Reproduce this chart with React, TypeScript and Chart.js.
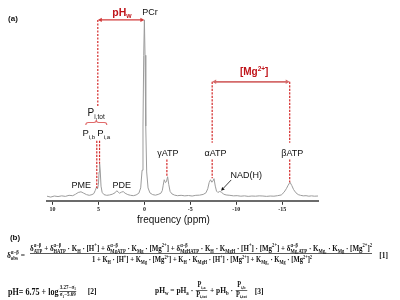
import { useEffect, useRef } from 'react';
import { Chart, registerables } from 'chart.js';

Chart.register(...registerables);

// ---------- data ----------
const ppmValues = [
  10.6, 10.2, 9.8, 9.4, 9.0, 8.6, 8.2, 7.8, 7.5, 7.2,
  6.9, 6.6, 6.3, 6.0, 5.7, 5.5, 5.35, 5.2, 5.1, 5.0,
  4.93, 4.87, 4.8, 4.72, 4.6, 4.4, 4.1, 3.8, 3.5, 3.2,
  3.0, 2.85, 2.7, 2.5, 2.3, 2.1, 1.8, 1.5, 1.2, 0.9,
  0.6, 0.4, 0.25, 0.15, 0.07, 0.0, -0.07, -0.15, -0.25, -0.4,
  -0.6, -0.9, -1.2, -1.5, -1.8, -1.95, -2.05, -2.16, -2.3, -2.4,
  -2.53, -2.65, -2.8, -3.0, -3.3, -3.6, -4.0, -4.4, -4.8, -5.2,
  -5.6, -6.0, -6.4, -6.7, -6.9, -7.05, -7.2, -7.35, -7.45, -7.58,
  -7.72, -7.85, -8.0, -8.2, -8.4, -8.6, -8.9, -9.3, -9.7, -10.1,
  -10.5, -10.9, -11.3, -11.7, -12.1, -12.5, -12.9, -13.3, -13.7, -14.1,
  -14.5, -14.9, -15.2, -15.45, -15.65, -15.85, -16.05, -16.25, -16.5, -16.75,
  -17.0, -17.3, -17.6, -17.9, -18.2, -18.5, -18.9,
];
const intensity = [
  0.3, -0.2, 0.4, 0.1, 0.5, 0.2, 0.8, 0.6, 1.4, 2.4,
  2.8, 2.0, 1.2, 0.8, 1.2, 1.8, 3.5, 5.5, 4.5, 7,
  14, 18.6, 14, 6, 2.5, 1.2, 0.8, 1.0, 1.4, 2.2,
  3.4, 2.6, 2.0, 2.6, 2.9, 2.0, 1.2, 0.8, 0.6, 1.0,
  2.0, 5, 15, 40, 80, 100, 80, 40, 14, 5,
  2.2, 1.2, 0.9, 1.3, 2.0, 3.5, 6.5, 9.6, 8.0, 8.5,
  11.3, 7, 3, 1.6, 0.9, 0.6, 0.8, 0.5, 0.7, 0.4,
  0.8, 0.9, 1.3, 2.2, 4.5, 8, 9.6, 8.2, 8.8, 10.2,
  6, 3.2, 2.4, 3.0, 2.6, 1.5, 1.0, 0.8, 0.5, 0.6,
  0.3, 0.5, 0.2, 0.4, 0.3, 0.5, 0.4, 0.2, 0.4, 0.3,
  0.6, 1.0, 2.5, 4.5, 6.5, 8.2, 6.3, 4.0, 2.2, 1.2,
  0.8, 0.5, 0.6, 0.3, 0.5, 0.3, 0.4,
];
const tickValues = [10, 5, 0, -5, -10, -15];
const axisMin = -18.9;
const axisMax = 10.6;
const axisTitle = 'frequency (ppm)';

// peak positions (ppm) used by the annotations
const pcrPpm = 0;
const piTotPpm = 5.07;
const piBPpm = 5.18;
const piAPpm = 4.88;
const gammaPpm = -2.45;
const alphaPpm = -7.38;
const betaPpm = -15.82;
const nadPpm = -8.35;
// peak heights at the dashed-line ends
const piBTop = 5;
const piATop = 18.6;
const gammaTop = 11.3;
const alphaTop = 10.4;
const betaTop = 8.2;
const nadTop = 3.4;

// ---------- text helpers ----------
const SANS = '"Liberation Sans", Arial, sans-serif';
const SERIF = '"Liberation Serif", "Times New Roman", serif';

type Seg = { t: string; sup?: string; sub?: string };

function parseRich(s: string): Seg[] {
  const out: Seg[] = [];
  let buf = '';
  let i = 0;
  while (i < s.length) {
    const c = s[i];
    if ((c === '^' || c === '_') && s[i + 1] === '{') {
      const j = s.indexOf('}', i);
      const inner = s.slice(i + 2, j);
      if (buf) { out.push({ t: buf }); buf = ''; }
      const last: any = out[out.length - 1];
      const key = c === '^' ? 'sup' : 'sub';
      if (last && last.t === '' && last[key] === undefined && s[i - 1] === '}') last[key] = inner;
      else out.push({ t: '', [key]: inner } as Seg);
      i = j + 1;
    } else { buf += c; i++; }
  }
  if (buf) out.push({ t: buf });
  return out;
}

function segsWidth(ctx: CanvasRenderingContext2D, segs: Seg[], size: number, fam: string, weight: string) {
  let w = 0;
  for (const g of segs) {
    if (g.t) { ctx.font = `${weight} ${size}px ${fam}`; w += ctx.measureText(g.t).width; }
    else {
      ctx.font = `${weight} ${size * 0.65}px ${fam}`;
      w += Math.max(g.sup ? ctx.measureText(g.sup).width : 0, g.sub ? ctx.measureText(g.sub).width : 0);
    }
  }
  return w;
}

function drawSegs(ctx: CanvasRenderingContext2D, segs: Seg[], x: number, y: number, size: number, fam: string, weight: string) {
  ctx.textAlign = 'left';
  ctx.textBaseline = 'alphabetic';
  let cx = x;
  for (const g of segs) {
    if (g.t) {
      ctx.font = `${weight} ${size}px ${fam}`;
      ctx.fillText(g.t, cx, y);
      cx += ctx.measureText(g.t).width;
    } else {
      ctx.font = `${weight} ${size * 0.65}px ${fam}`;
      let w = 0;
      if (g.sup) { ctx.fillText(g.sup, cx, y - size * 0.4); w = Math.max(w, ctx.measureText(g.sup).width); }
      if (g.sub) { ctx.fillText(g.sub, cx, y + size * 0.22); w = Math.max(w, ctx.measureText(g.sub).width); }
      cx += w;
    }
  }
  return cx - x;
}

function label(ctx: CanvasRenderingContext2D, text: string, cx: number, cy: number, size: number, color: string, weight = 'normal', fam = SANS) {
  const segs = parseRich(text);
  const w = segsWidth(ctx, segs, size, fam, weight);
  ctx.fillStyle = color;
  drawSegs(ctx, segs, cx - w / 2, cy + size * 0.36, size, fam, weight);
}

type Item = { segs: Seg[] } | { num: Seg[]; den: Seg[]; k: number };

function layoutItems(ctx: CanvasRenderingContext2D, items: Item[], size: number, fam: string, weight: string, draw: boolean) {
  let x = 0;
  for (const it of items) {
    if ('segs' in it) {
      const w = segsWidth(ctx, it.segs, size, fam, weight);
      if (draw) drawSegs(ctx, it.segs, x, size * 0.34, size, fam, weight);
      x += w;
    } else {
      const fs = size * it.k;
      const nw = segsWidth(ctx, it.num, fs, fam, weight);
      const dw = segsWidth(ctx, it.den, fs, fam, weight);
      const w = Math.max(nw, dw) + size * 0.3;
      if (draw) {
        drawSegs(ctx, it.num, x + (w - nw) / 2, -fs * 0.42, fs, fam, weight);
        drawSegs(ctx, it.den, x + (w - dw) / 2, fs * 0.85, fs, fam, weight);
        ctx.beginPath();
        ctx.lineWidth = size * 0.08;
        ctx.strokeStyle = ctx.fillStyle as string;
        ctx.moveTo(x + size * 0.1, 0);
        ctx.lineTo(x + w - size * 0.1, 0);
        ctx.stroke();
      }
      x += w;
    }
  }
  return x;
}

function fitItems(ctx: CanvasRenderingContext2D, items: Item[], x0: number, yMid: number, targetW: number, fam: string, weight: string, color: string, stretch = 1) {
  const base = 10;
  const w = layoutItems(ctx, items, base, fam, weight, false);
  const k = targetW / w;
  ctx.save();
  ctx.fillStyle = color;
  ctx.translate(x0, yMid);
  ctx.scale(k, k * stretch);
  layoutItems(ctx, items, base, fam, weight, true);
  ctx.restore();
}

const eq1Left = 'δ^{α−β}_{obs} =';
const eq1Num = 'δ^{α−β}_{ATP} + δ^{α−β}_{HATP} · K_{H} · [H^{+}] + δ^{α−β}_{MgATP} · K_{Mg} · [Mg^{2+}] + δ^{α−β}_{MgHATP} · K_{H} · K_{MgH} · [H^{+}] · [Mg^{2+}] + δ^{α−β}_{Mg₂ATP} · K_{Mg₂} · K_{Mg} · [Mg^{2+}]^{2}';
const eq1Den = '1 + K_{H} · [H^{+}] + K_{Mg} · [Mg^{2+}] + K_{H} · K_{MgH} · [H^{+}] · [Mg^{2+}] + K_{Mg₂} · K_{Mg} · [Mg^{2+}]^{2}';

// ---------- drawing helpers ----------
function dashed(ctx: CanvasRenderingContext2D, x: number, y1: number, y2: number) {
  ctx.save();
  ctx.strokeStyle = '#d42a2a';
  ctx.lineWidth = 1.2;
  ctx.setLineDash([2.2, 1.3]);
  ctx.beginPath();
  ctx.moveTo(x, y1);
  ctx.lineTo(x, y2);
  ctx.stroke();
  ctx.restore();
}

function head(ctx: CanvasRenderingContext2D, x: number, y: number, dx: number, dy: number, len: number, half: number) {
  const l = Math.hypot(dx, dy);
  const ux = dx / l, uy = dy / l;
  ctx.beginPath();
  ctx.moveTo(x, y);
  ctx.lineTo(x - ux * len - uy * half, y - uy * len + ux * half);
  ctx.lineTo(x - ux * len + uy * half, y - uy * len - ux * half);
  ctx.closePath();
  ctx.fill();
}

function dblArrow(ctx: CanvasRenderingContext2D, x1: number, x2: number, y: number, color: string, lw: number) {
  ctx.save();
  ctx.strokeStyle = color;
  ctx.fillStyle = color;
  ctx.lineWidth = lw;
  ctx.beginPath();
  ctx.moveTo(x1 + 2, y);
  ctx.lineTo(x2 - 2, y);
  ctx.stroke();
  head(ctx, x1, y, -1, 0, 4, 2.2);
  head(ctx, x2, y, 1, 0, 4, 2.2);
  ctx.restore();
}

const annotPlugin = {
  id: 'annot',
  afterDraw(chart: any) {
    const ctx: CanvasRenderingContext2D = chart.ctx;
    const xs = chart.scales.x;
    const ys = chart.scales.y;
    const X = (v: number) => xs.getPixelForValue(v);
    const Y = (v: number) => ys.getPixelForValue(v);
    ctx.save();

    // pHw arrow and Pi,tot dashed line
    dblArrow(ctx, X(piTotPpm), X(pcrPpm), Y(100), '#d23a3a', 1.3);
    dashed(ctx, X(piTotPpm), Y(100), Y(51));
    dashed(ctx, X(piBPpm), Y(31.6), Y(piBTop));
    dashed(ctx, X(piAPpm), Y(31.6), Y(piATop));

    // [Mg2+] arrow and ATP dashed lines
    dblArrow(ctx, X(alphaPpm), X(betaPpm), Y(65), '#d46a6a', 1.8);
    dashed(ctx, X(alphaPpm), Y(65), Y(30.5));
    dashed(ctx, X(betaPpm), Y(65), Y(30.5));
    dashed(ctx, X(alphaPpm), Y(21), Y(alphaTop));
    dashed(ctx, X(betaPpm), Y(21), Y(betaTop));
    dashed(ctx, X(gammaPpm), Y(21), Y(gammaTop));

    // brace under Pi,tot
    const bx = X(piTotPpm) - 1.5;
    const by = Y(42);
    ctx.strokeStyle = '#e06a6a';
    ctx.lineWidth = 1.1;
    ctx.beginPath();
    ctx.moveTo(bx - 10.5, by + 2.5);
    ctx.quadraticCurveTo(bx - 10.5, by, bx - 8, by);
    ctx.lineTo(bx - 2.5, by);
    ctx.quadraticCurveTo(bx, by, bx, by - 2.5);
    ctx.quadraticCurveTo(bx, by, bx + 2.5, by);
    ctx.lineTo(bx + 8, by);
    ctx.quadraticCurveTo(bx + 10.5, by, bx + 10.5, by + 2.5);
    ctx.stroke();

    // NAD(H) pointer
    const ax1 = X(-9.45), ay1 = Y(9.5), ax2 = X(nadPpm), ay2 = Y(nadTop);
    ctx.strokeStyle = '#111';
    ctx.fillStyle = '#111';
    ctx.lineWidth = 0.8;
    ctx.beginPath();
    ctx.moveTo(ax1, ay1);
    ctx.lineTo(ax2 + (ax1 - ax2) * 0.25, ay2 + (ay1 - ay2) * 0.25);
    ctx.stroke();
    head(ctx, ax2, ay2, ax2 - ax1, ay2 - ay1, 3.5, 1.8);

    // labels
    const red = '#c0141a';
    label(ctx, 'pH_{w}', X(2.45), Y(104.5), 10.5, red, 'bold');
    label(ctx, 'PCr', X(-0.6), Y(104.5), 9, '#111');
    label(ctx, '[Mg^{2+}]', X(-11.95), Y(70.6), 10, red, 'bold');
    label(ctx, 'P_{i,tot}', X(5.25), Y(47.5), 10, '#111');
    label(ctx, 'P_{i,b}', X(6.05), Y(36), 9.5, '#111');
    label(ctx, 'P_{i,a}', X(4.42), Y(36), 9.5, '#111');
    label(ctx, 'γATP', X(-2.56), Y(24.9), 9, '#111');
    label(ctx, 'αATP', X(-7.74), Y(24.9), 9, '#111');
    label(ctx, 'βATP', X(-16.1), Y(24.9), 9, '#111');
    label(ctx, 'PME', X(6.87), Y(6.8), 9, '#111');
    label(ctx, 'PDE', X(2.45), Y(6.8), 9, '#111');
    label(ctx, 'NAD(H)', X(-11.1), Y(12.4), 9, '#111');

    // axis title
    label(ctx, axisTitle, 173.5, 219.5, 10, '#111');

    // panel letters
    label(ctx, '(a)', 13, 18, 8, '#111', 'bold');
    label(ctx, '(b)', 15, 237, 8, '#111', 'bold');

    // equations
    const ink = '#111';
    fitItems(ctx, [{ segs: parseRich(eq1Left) }], 7, 254.5, 18, SERIF, 'bold', ink, 1.2);
    fitItems(ctx, [{ segs: parseRich(eq1Num) }], 30, 248, 342, SERIF, 'bold', ink, 1.3);
    fitItems(ctx, [{ segs: parseRich(eq1Den) }], 92, 259.5, 220, SERIF, 'bold', ink, 1.3);
    ctx.strokeStyle = ink;
    ctx.lineWidth = 0.7;
    ctx.setLineDash([]);
    ctx.beginPath();
    ctx.moveTo(30, 253.5);
    ctx.lineTo(372, 253.5);
    ctx.stroke();
    label(ctx, '[1]', 383.5, 255, 7.5, ink, 'bold', SERIF);

    fitItems(ctx, [
      { segs: parseRich('pH= 6.75 + log') },
      { num: parseRich('3.27−σ_{1}'), den: parseRich('σ_{1}−5.69'), k: 0.62 },
    ], 8, 291.5, 69, SERIF, 'bold', ink, 1.15);
    label(ctx, '[2]', 92, 291.5, 7.5, ink, 'bold', SERIF);

    fitItems(ctx, [
      { segs: parseRich('pH_{w} = pH_{a} · ') },
      { num: parseRich('P_{i,a}'), den: parseRich('P_{i,tot}'), k: 0.85 },
      { segs: parseRich(' + pH_{b} · ') },
      { num: parseRich('P_{i,b}'), den: parseRich('P_{i,tot}'), k: 0.85 },
    ], 155, 290.5, 93, SERIF, 'bold', ink, 1.15);
    label(ctx, '[3]', 259, 291, 7.5, ink, 'bold', SERIF);

    ctx.restore();
  },
};

export default function App() {
  const ref = useRef<HTMLCanvasElement>(null);
  useEffect(() => {
    const chart = new Chart(ref.current!, {
      type: 'line',
      data: {
        datasets: [{
          data: ppmValues.map((x, i) => ({ x, y: intensity[i] })),
          borderColor: '#9c9c9c',
          borderWidth: 1,
          pointRadius: 0,
          tension: 0,
          fill: false,
        }],
      },
      options: {
        animation: false,
        responsive: false,
        events: [],
        layout: { padding: { left: 47, right: 82, top: 4, bottom: 86 } },
        plugins: { legend: { display: false }, tooltip: { enabled: false } },
        scales: {
          x: {
            type: 'linear',
            reverse: true,
            min: axisMin,
            max: axisMax,
            afterBuildTicks: (s: any) => { s.ticks = tickValues.map((v) => ({ value: v })); },
            ticks: {
              autoSkip: false,
              maxRotation: 0,
              padding: 1,
              color: '#222',
              font: { size: 6, weight: 'bold', family: SERIF },
            },
            grid: { drawOnChartArea: false, drawTicks: true, tickLength: 4, color: '#333', lineWidth: 1 },
            border: { color: '#6b6b6b', width: 2 },
          },
          y: { display: false, min: -2.3, max: 109 },
        },
      },
      plugins: [annotPlugin],
    } as any);
    return () => chart.destroy();
  }, []);
  return (
    <div style={{ position: 'absolute', left: 0, top: 0, width: 400, height: 300, background: '#fff' }}>
      <canvas ref={ref} width={400} height={300} style={{ display: 'block' }} />
    </div>
  );
}
